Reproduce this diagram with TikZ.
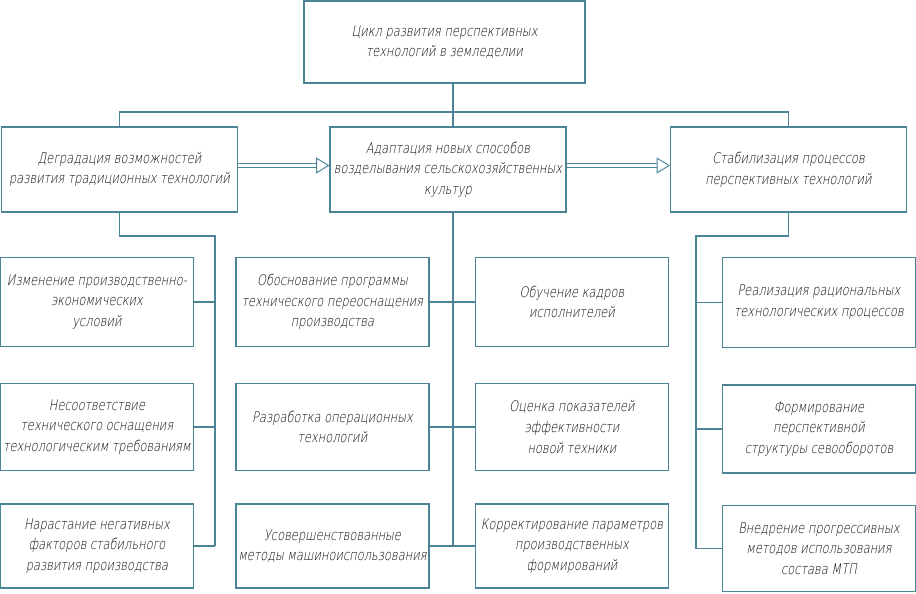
\documentclass[tikz,border=0pt]{standalone}
\usepackage{fontspec}
\newfontfamily\gostfont{DejaVu Sans ExtraLight}[FakeSlant=0.18, FakeStretch=0.78]
\usetikzlibrary{arrows.meta}
\definecolor{frame}{RGB}{74,132,150}
\definecolor{ink}{RGB}{15,15,15}

\begin{document}
\begin{tikzpicture}[x=0.75pt, y=-0.75pt, font=\gostfont\fontsize{11}{15.5}\selectfont, text=ink,
  line/.style={draw=frame, line width=0.8pt},
  topbox/.style={line, minimum width=210.75pt, minimum height=61.5pt, align=center},
  stagebox/.style={line, minimum width=177pt, minimum height=63.75pt, align=center, inner sep=1pt},
  itembox/.style={line, minimum width=144.75pt, minimum height=65pt, align=center, inner sep=1pt},
  flow/.style={draw=frame, line width=0.6pt, double=white, double distance=2pt,
    -{Triangle[open, length=10pt, width=12pt, line width=0.7pt]}}]
\useasboundingbox (0,0) rectangle (916,593);
% cycle and its three stages
\node[topbox] (cycle) at (444.5,42) {Цикл развития перспективных\\технологий в земледелии};
\node[stagebox] (degr) at (119.5,169.5) {Деградация возможностей\\развития традиционных технологий};
\node[stagebox] (adapt) at (448,169.5) {Адаптация новых способов\\возделывания сельскохозяйственных\\культур};
\node[stagebox] (stab) at (788.5,169.5) {Стабилизация процессов\\перспективных технологий};
% left column
\node[itembox, minimum height=67pt] (chg) at (97,302) {Изменение производственно-\\экономических\\условий};
\node[itembox] (mism) at (97,427) {Несоответствие\\технического оснащения\\технологическим требованиям};
\node[itembox, minimum height=63pt] (neg) at (97,546) {Нарастание негативных\\факторов стабильного\\развития производства};
% middle columns
\node[itembox, minimum height=67pt] (prog) at (332.5,302) {Обоснование программы\\технического переоснащения\\производства};
\node[itembox] (oper) at (332.5,427) {Разработка операционных\\технологий};
\node[itembox, minimum height=63pt] (meth) at (332.5,546) {Усовершенствованные\\методы машиноиспользования};
\node[itembox, minimum height=67pt] (train) at (572,302) {Обучение кадров\\исполнителей};
\node[itembox] (eval) at (572,427) {Оценка показателей\\эффективности\\новой техники};
\node[itembox, minimum height=63pt] (corr) at (572,546) {Корректирование параметров\\производственных\\формирований};
% right column
\node[itembox, minimum height=67pt] (ratio) at (819,302.5) {Реализация рациональных\\технологических процессов};
\node[itembox, minimum height=66pt] (rot) at (819,429) {Формирование\\перспективной\\структуры севооборотов};
\node[itembox] (mtp) at (819,548.5) {Внедрение прогрессивных\\методов использования\\состава МТП};
% top bus
\coordinate (bus) at (453,112);
\draw[line] (degr.north) |- (bus) -| (stab.north);
\draw[line] (cycle.south -| bus) -- (bus) -- (bus |- adapt.north);
% stage flow
\draw[flow] ([yshift=3pt]degr.east) -- ([yshift=3pt]adapt.west);
\draw[flow] ([yshift=3pt]adapt.east) -- ([yshift=3pt]stab.west);
% left trunk
\coordinate (lbend) at (215,236);
\draw[line] (degr.south) |- (lbend) -- (lbend |- neg.east);
\draw[line] (chg.east) -- (chg.east -| lbend);
\draw[line] (mism.east) -- (mism.east -| lbend);
\draw[line] (neg.east) -- (neg.east -| lbend);
% middle trunk
\draw[line] (bus |- adapt.south) -- (bus |- meth.east);
\draw[line] (prog.east) -- (train.west);
\draw[line] (oper.east) -- (eval.west);
\draw[line] (meth.east) -- (corr.west);
% right trunk
\coordinate (rbend) at (696,236);
\draw[line] (stab.south) |- (rbend) -- (rbend |- mtp.west);
\draw[line] (ratio.west) -- (ratio.west -| rbend);
\draw[line] (rot.west) -- (rot.west -| rbend);
\draw[line] (mtp.west) -- (mtp.west -| rbend);
\end{tikzpicture}
\end{document}
